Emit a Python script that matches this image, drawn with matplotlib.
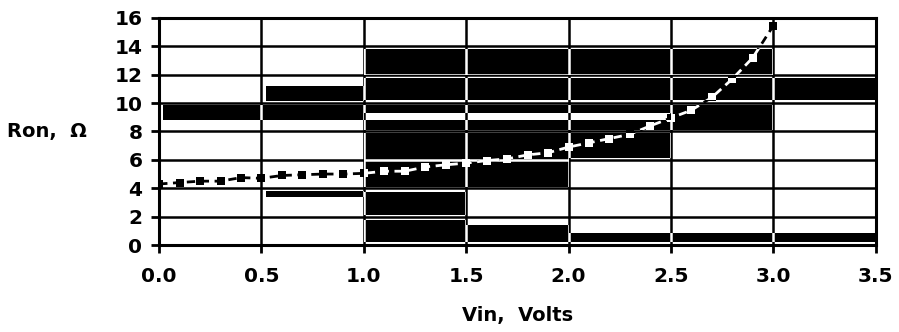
import matplotlib
matplotlib.use("Agg")
import matplotlib.pyplot as plt
from matplotlib.path import Path
from matplotlib.patches import Rectangle

# measured on-resistance vs input voltage
vin = [0.0, 0.1, 0.2, 0.3, 0.4, 0.5, 0.6, 0.7, 0.8, 0.9,
       1.0, 1.1, 1.2, 1.3, 1.4, 1.5, 1.6, 1.7, 1.8, 1.9,
       2.0, 2.1, 2.2, 2.3, 2.4, 2.5, 2.6, 2.7, 2.8, 2.9, 3.0]
ron = [4.3, 4.4, 4.5, 4.5, 4.75, 4.7, 4.9, 4.95, 5.0, 5.0,
       5.05, 5.2, 5.2, 5.5, 5.65, 5.77, 5.95, 6.07, 6.35, 6.5,
       6.9, 7.2, 7.5, 7.8, 8.4, 8.95, 9.5, 10.4, 11.7, 13.2, 15.45]

xticks = [0.0, 0.5, 1.0, 1.5, 2.0, 2.5, 3.0, 3.5]
xtick_labels = ["0.0", "0.5", "1.0", "1.5", "2.0", "2.5", "3.0", "3.5"]
yticks = [0, 2, 4, 6, 8, 10, 12, 14, 16]

# dark blocks from the scanned original (x0, x1, y0, y1 in data units)
blocks = [
    (0.02, 1.0, 8.82, 9.88),
    (0.52, 1.0, 10.18, 11.17),
    (0.52, 1.0, 3.41, 3.83),
    (1.0, 3.0, 12.0, 13.8),
    (1.0, 3.5, 10.23, 11.76),
    (1.0, 3.0, 9.3, 9.88),
    (1.0, 3.0, 8.1, 8.82),
    (2.5, 3.0, 8.82, 9.3),
    (1.0, 2.5, 6.1, 7.9),
    (1.0, 2.0, 4.1, 6.1),
    (1.0, 1.5, 2.1, 3.76),
    (1.0, 1.5, 0.23, 1.76),
    (1.5, 2.0, 0.23, 1.4),
    (2.0, 3.5, 0.23, 0.85),
]

fig = plt.figure(figsize=(8.99, 3.32), dpi=100)
ax = fig.add_axes([0.177, 0.262, 0.797, 0.684])
ax.set_xlim(0, 3.5)
ax.set_ylim(0, 16)

# black grid on white
for y in yticks[1:-1]:
    ax.axhline(y, color="black", lw=1.8, zorder=0.5)
for x in xticks[1:-1]:
    ax.axvline(x, color="black", lw=1.8, zorder=0.5)

# dark blocks
paths = []
for x0, x1, y0, y1 in blocks:
    ax.add_patch(Rectangle((x0, y0), x1 - x0, y1 - y0, facecolor="black",
                           edgecolor="none", zorder=1))
    paths.append(Path([(x0, y0), (x1, y0), (x1, y1), (x0, y1), (x0, y0)],
                      [Path.MOVETO, Path.LINETO, Path.LINETO, Path.LINETO,
                       Path.CLOSEPOLY]))
dark = Path.make_compound_path(*paths)

# white grid inside the dark blocks
for y in yticks[1:-1]:
    ln = ax.axhline(y, color="white", lw=1.8, zorder=1.5)
    ln.set_clip_path(dark, ax.transData)
for x in xticks[1:-1]:
    ln = ax.axvline(x, color="white", lw=1.8, zorder=1.5)
    ln.set_clip_path(dark, ax.transData)

# the series: black on white, white on black
ax.plot(vin, ron, color="black", lw=2, dashes=(3, 2), marker="s",
        markersize=5.5, markeredgewidth=0, zorder=3)
inv = ax.plot(vin, ron, color="white", lw=2, dashes=(3, 2), marker="s",
              markersize=5.5, markeredgewidth=0, zorder=4)[0]
inv.set_clip_path(dark, ax.transData)

for s in ax.spines.values():
    s.set_linewidth(2.2)
    s.set_zorder(5)

ax.set_xticks(xticks)
ax.set_xticklabels(xtick_labels)
ax.set_yticks(yticks)
ax.tick_params(axis="both", direction="out", width=2, length=6,
               labelsize=14.5, pad=6)
for lab in ax.get_xticklabels() + ax.get_yticklabels():
    lab.set_fontweight("bold")
ax.tick_params(axis="x", pad=10)

ax.set_xlabel("Vin,  Volts", fontsize=14, fontweight="bold", labelpad=14)
ax.set_ylabel("Ron,  \u03a9", fontsize=14, fontweight="bold", rotation=0,
              ha="left", va="center")
ax.yaxis.set_label_coords(-0.212, 0.5)

fig.savefig("out.png", dpi=100)
